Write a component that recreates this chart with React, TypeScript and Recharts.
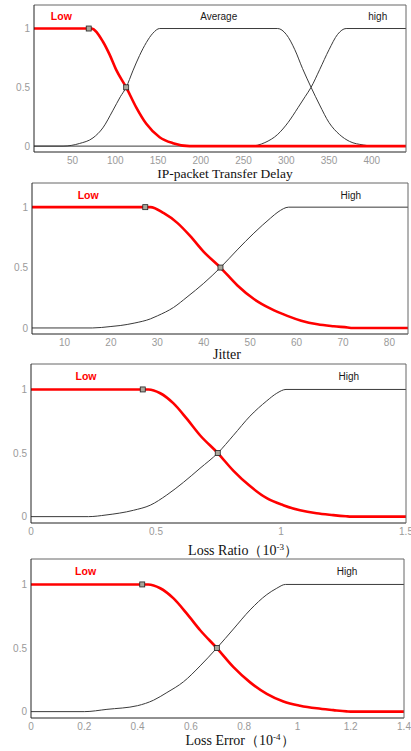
import React from 'react';
import { ComposedChart, Line, Scatter, XAxis, YAxis, ReferenceDot } from 'recharts';

type Pt = { x: number; y: number };

// membership degree axis
const degreeTicks = [0, 0.5, 1];

// IP-packet transfer delay
const delayTicks = [50, 100, 150, 200, 250, 300, 350, 400];
const delayLow: Pt[] = [
  { x: 5, y: 1 }, { x: 72, y: 1 }, { x: 85.5, y: 0.89 }, { x: 93.3, y: 0.78 }, { x: 101, y: 0.65 },
  { x: 112.8, y: 0.5 }, { x: 124.5, y: 0.33 }, { x: 136.3, y: 0.19 }, { x: 151.9, y: 0.076 },
  { x: 167.5, y: 0.025 }, { x: 187, y: 0 }, { x: 440, y: 0 },
];
const delayAverage: Pt[] = [
  { x: 5, y: 0 }, { x: 39, y: 0 }, { x: 58, y: 0.022 }, { x: 74, y: 0.07 }, { x: 85.5, y: 0.155 },
  { x: 97, y: 0.3 }, { x: 106, y: 0.42 }, { x: 112.8, y: 0.5 }, { x: 120.6, y: 0.64 }, { x: 128.4, y: 0.77 },
  { x: 136.3, y: 0.88 }, { x: 144, y: 0.96 }, { x: 152, y: 1 }, { x: 290, y: 1 }, { x: 300, y: 0.95 },
  { x: 310, y: 0.82 }, { x: 319, y: 0.66 }, { x: 329, y: 0.5 }, { x: 339, y: 0.35 }, { x: 350, y: 0.2 },
  { x: 362, y: 0.1 }, { x: 374, y: 0.04 }, { x: 390, y: 0.01 }, { x: 402, y: 0 }, { x: 440, y: 0 },
];
const delayHigh: Pt[] = [
  { x: 5, y: 0 }, { x: 258, y: 0 }, { x: 275, y: 0.03 }, { x: 290, y: 0.1 }, { x: 302, y: 0.2 },
  { x: 314, y: 0.33 }, { x: 322, y: 0.42 }, { x: 329, y: 0.5 }, { x: 339, y: 0.65 }, { x: 350, y: 0.82 },
  { x: 360, y: 0.95 }, { x: 370, y: 1 }, { x: 440, y: 1 },
];
const delayMarkers: Pt[] = [{ x: 69, y: 1 }, { x: 112.8, y: 0.5 }];
const delayTerms = [
  { name: 'Low', x: 37, red: true },
  { name: 'Average', x: 221, red: false },
  { name: 'high', x: 407, red: false },
];

// jitter
const jitterTicks = [10, 20, 30, 40, 50, 60, 70, 80];
const jitterLow: Pt[] = [
  { x: 3, y: 1 }, { x: 28.5, y: 1 }, { x: 31.4, y: 0.95 }, { x: 34.3, y: 0.87 }, { x: 37.1, y: 0.76 },
  { x: 40, y: 0.63 }, { x: 43.6, y: 0.5 }, { x: 47.2, y: 0.354 }, { x: 50.8, y: 0.24 }, { x: 54.4, y: 0.16 },
  { x: 58, y: 0.1 }, { x: 61, y: 0.06 }, { x: 64.5, y: 0.03 }, { x: 68, y: 0.014 }, { x: 71, y: 0.004 },
  { x: 72, y: 0 }, { x: 84, y: 0 },
];
const jitterHigh: Pt[] = [
  { x: 3, y: 0 }, { x: 16, y: 0 }, { x: 20, y: 0.012 }, { x: 22, y: 0.02 }, { x: 25, y: 0.04 },
  { x: 28.5, y: 0.075 }, { x: 30, y: 0.1 }, { x: 33.5, y: 0.17 }, { x: 36.4, y: 0.256 }, { x: 40, y: 0.37 },
  { x: 43.6, y: 0.5 }, { x: 47.2, y: 0.646 }, { x: 50.8, y: 0.785 }, { x: 54.4, y: 0.91 }, { x: 56, y: 0.96 },
  { x: 58.3, y: 1 }, { x: 84, y: 1 },
];
const jitterMarkers: Pt[] = [{ x: 27.4, y: 1 }, { x: 43.6, y: 0.5 }];
const jitterTerms = [
  { name: 'Low', x: 15.1, red: true },
  { name: 'High', x: 71.7, red: false },
];

// loss ratio (10^-3)
const ratioTicks = [0, 0.5, 1, 1.5];
const ratioLow: Pt[] = [
  { x: 0, y: 1 }, { x: 0.47, y: 1 }, { x: 0.517, y: 0.97 }, { x: 0.57, y: 0.89 }, { x: 0.623, y: 0.77 },
  { x: 0.676, y: 0.64 }, { x: 0.747, y: 0.5 }, { x: 0.81, y: 0.36 }, { x: 0.876, y: 0.24 }, { x: 0.943, y: 0.145 },
  { x: 1.009, y: 0.09 }, { x: 1.076, y: 0.05 }, { x: 1.142, y: 0.026 }, { x: 1.209, y: 0.012 }, { x: 1.26, y: 0.003 },
  { x: 1.28, y: 0 }, { x: 1.5, y: 0 },
];
const ratioHigh: Pt[] = [
  { x: 0, y: 0 }, { x: 0.23, y: 0 }, { x: 0.3, y: 0.013 }, { x: 0.41, y: 0.05 }, { x: 0.477, y: 0.09 },
  { x: 0.543, y: 0.17 }, { x: 0.61, y: 0.27 }, { x: 0.676, y: 0.38 }, { x: 0.747, y: 0.5 }, { x: 0.81, y: 0.64 },
  { x: 0.876, y: 0.79 }, { x: 0.943, y: 0.91 }, { x: 0.983, y: 0.97 }, { x: 1.02, y: 1 }, { x: 1.5, y: 1 },
];
const ratioMarkers: Pt[] = [{ x: 0.447, y: 1 }, { x: 0.747, y: 0.5 }];
const ratioTerms = [
  { name: 'Low', x: 0.22, red: true },
  { name: 'High', x: 1.271, red: false },
];

// loss error (10^-4)
const errorTicks = [0, 0.2, 0.4, 0.6, 0.8, 1, 1.2, 1.4];
const errorLow: Pt[] = [
  { x: 0, y: 1 }, { x: 0.44, y: 1 }, { x: 0.485, y: 0.97 }, { x: 0.535, y: 0.89 }, { x: 0.585, y: 0.77 },
  { x: 0.635, y: 0.64 }, { x: 0.6975, y: 0.5 }, { x: 0.76, y: 0.35 }, { x: 0.8225, y: 0.23 }, { x: 0.885, y: 0.14 },
  { x: 0.9475, y: 0.08 }, { x: 1.01, y: 0.047 }, { x: 1.0725, y: 0.026 }, { x: 1.135, y: 0.012 }, { x: 1.185, y: 0.002 },
  { x: 1.2, y: 0 }, { x: 1.4, y: 0 },
];
const errorHigh: Pt[] = [
  { x: 0, y: 0 }, { x: 0.2, y: 0 }, { x: 0.285, y: 0.018 }, { x: 0.4, y: 0.047 }, { x: 0.46, y: 0.09 },
  { x: 0.51, y: 0.15 }, { x: 0.5725, y: 0.235 }, { x: 0.635, y: 0.36 }, { x: 0.6975, y: 0.5 }, { x: 0.76, y: 0.65 },
  { x: 0.8225, y: 0.8 }, { x: 0.885, y: 0.92 }, { x: 0.9225, y: 0.97 }, { x: 0.955, y: 1 }, { x: 1.4, y: 1 },
];
const errorMarkers: Pt[] = [{ x: 0.4175, y: 1 }, { x: 0.6975, y: 0.5 }];
const errorTerms = [
  { name: 'Low', x: 0.205, red: true },
  { name: 'High', x: 1.186, red: false },
];

const sans = '"Liberation Sans", Arial, sans-serif';
const serif = '"Liberation Serif", "Times New Roman", serif';
const tickStyle = { fill: '#9a9a9a', fontSize: 10, fontFamily: sans };

const square = (p: any) => (
  <rect x={p.cx - 2.5} y={p.cy - 2.5} width={5} height={5} fill="#a9a79c" stroke="#222" strokeWidth={0.8} />
);

type PanelProps = {
  top: number;
  height: number;
  plotTop: number;
  plotBottom: number;
  plotLeft: number;
  plotRight: number;
  xDomain: [number, number];
  xTicks: number[];
  low: Pt[];
  others: Pt[][];
  markers: Pt[];
  terms: { name: string; x: number; red: boolean }[];
};

function Panel(p: PanelProps) {
  const margin = { top: p.plotTop - p.top, right: 411 - p.plotRight, left: 0, bottom: 0 };
  const xh = p.top + p.height - p.plotBottom;
  return (
    <div style={{ position: 'absolute', left: 0, top: p.top }}>
      <ComposedChart width={411} height={p.height} margin={margin}>
        <XAxis type="number" dataKey="x" domain={p.xDomain} ticks={p.xTicks} interval={0} allowDataOverflow
          height={xh} tickLine={false} tickSize={0} tickMargin={5} axisLine={{ stroke: '#222' }} tick={tickStyle} />
        <XAxis xAxisId="inner" type="number" domain={p.xDomain} ticks={p.xTicks} interval={0} allowDataOverflow
          mirror tick={false} tickSize={3} axisLine={false} tickLine={{ stroke: '#222' }} />
        <XAxis xAxisId="top" orientation="top" type="number" domain={p.xDomain} ticks={p.xTicks} interval={0}
          allowDataOverflow mirror tick={false} tickSize={3} axisLine={{ stroke: '#666' }} tickLine={{ stroke: '#444' }} />
        <YAxis type="number" dataKey="y" domain={[-0.05, 1.2]} ticks={degreeTicks} interval={0} allowDataOverflow
          width={p.plotLeft} tickLine={false} tickSize={0} tickMargin={4} axisLine={{ stroke: '#222' }} tick={tickStyle} />
        <YAxis yAxisId="inner" type="number" domain={[-0.05, 1.2]} ticks={degreeTicks} interval={0} allowDataOverflow
          mirror tick={false} tickSize={3} axisLine={false} tickLine={{ stroke: '#222' }} />
        <YAxis yAxisId="right" orientation="right" type="number" domain={[-0.05, 1.2]} ticks={degreeTicks} interval={0}
          allowDataOverflow mirror tick={false} tickSize={3} axisLine={{ stroke: '#666' }} tickLine={{ stroke: '#444' }} />
        {p.others.map((d, i) => (
          <Line key={i} data={d} dataKey="y" type="monotone" stroke="#3a3a3a" strokeWidth={1} dot={false}
            activeDot={false} isAnimationActive={false} />
        ))}
        <Line data={p.low} dataKey="y" type="monotone" stroke="#ff0000" strokeWidth={2.6} dot={false}
          activeDot={false} isAnimationActive={false} />
        <Scatter data={p.markers} dataKey="y" shape={square} isAnimationActive={false} />
        {p.terms.map((t) => (
          <ReferenceDot key={t.name} x={t.x} y={1.1} r={0} fill="none" stroke="none"
            label={{ value: t.name, position: 'center', fill: t.red ? '#ff0000' : '#1a1a1a', fontSize: t.red ? 10.5 : 10,
              fontWeight: t.red ? 'bold' : 'normal', fontFamily: sans }} />
        ))}
      </ComposedChart>
    </div>
  );
}

function Title({ x, y, size, children }: { x: number; y: number; size: number; children: React.ReactNode }) {
  return (
    <div style={{ position: 'absolute', left: x, top: y - 8, height: 16, lineHeight: '16px', transform: 'translateX(-50%)',
      whiteSpace: 'nowrap', fontFamily: serif, fontSize: size, color: '#111' }}>
      {children}
    </div>
  );
}

const Sup = ({ children }: { children: React.ReactNode }) => (
  <span style={{ fontSize: 9, position: 'relative', top: -5 }}>{children}</span>
);

export default function App() {
  return (
    <div style={{ position: 'absolute', left: 0, top: 0, width: 411, height: 751, background: '#fff', overflow: 'hidden' }}>
      <Panel top={0} height={180} plotTop={5} plotBottom={152} plotLeft={34} plotRight={406} xDomain={[5, 440]}
        xTicks={delayTicks} low={delayLow} others={[delayAverage, delayHigh]} markers={delayMarkers} terms={delayTerms} />
      <Title x={225} y={174} size={13.5}>IP-packet Transfer Delay</Title>

      <Panel top={178} height={180} plotTop={183} plotBottom={334} plotLeft={32} plotRight={408} xDomain={[3, 84]}
        xTicks={jitterTicks} low={jitterLow} others={[jitterHigh]} markers={jitterMarkers} terms={jitterTerms} />
      <Title x={227} y={355} size={14}>Jitter</Title>

      <Panel top={358} height={180} plotTop={364} plotBottom={523} plotLeft={31} plotRight={406} xDomain={[0, 1.5]}
        xTicks={ratioTicks} low={ratioLow} others={[ratioHigh]} markers={ratioMarkers} terms={ratioTerms} />
      <Title x={243} y={551} size={14}>Loss Ratio（10<Sup>-3</Sup>）</Title>

      <Panel top={555} height={196} plotTop={559} plotBottom={718} plotLeft={31} plotRight={404} xDomain={[0, 1.4]}
        xTicks={errorTicks} low={errorLow} others={[errorHigh]} markers={errorMarkers} terms={errorTerms} />
      <Title x={240} y={741} size={14}>Loss Error（10<Sup>-4</Sup>）</Title>
    </div>
  );
}
